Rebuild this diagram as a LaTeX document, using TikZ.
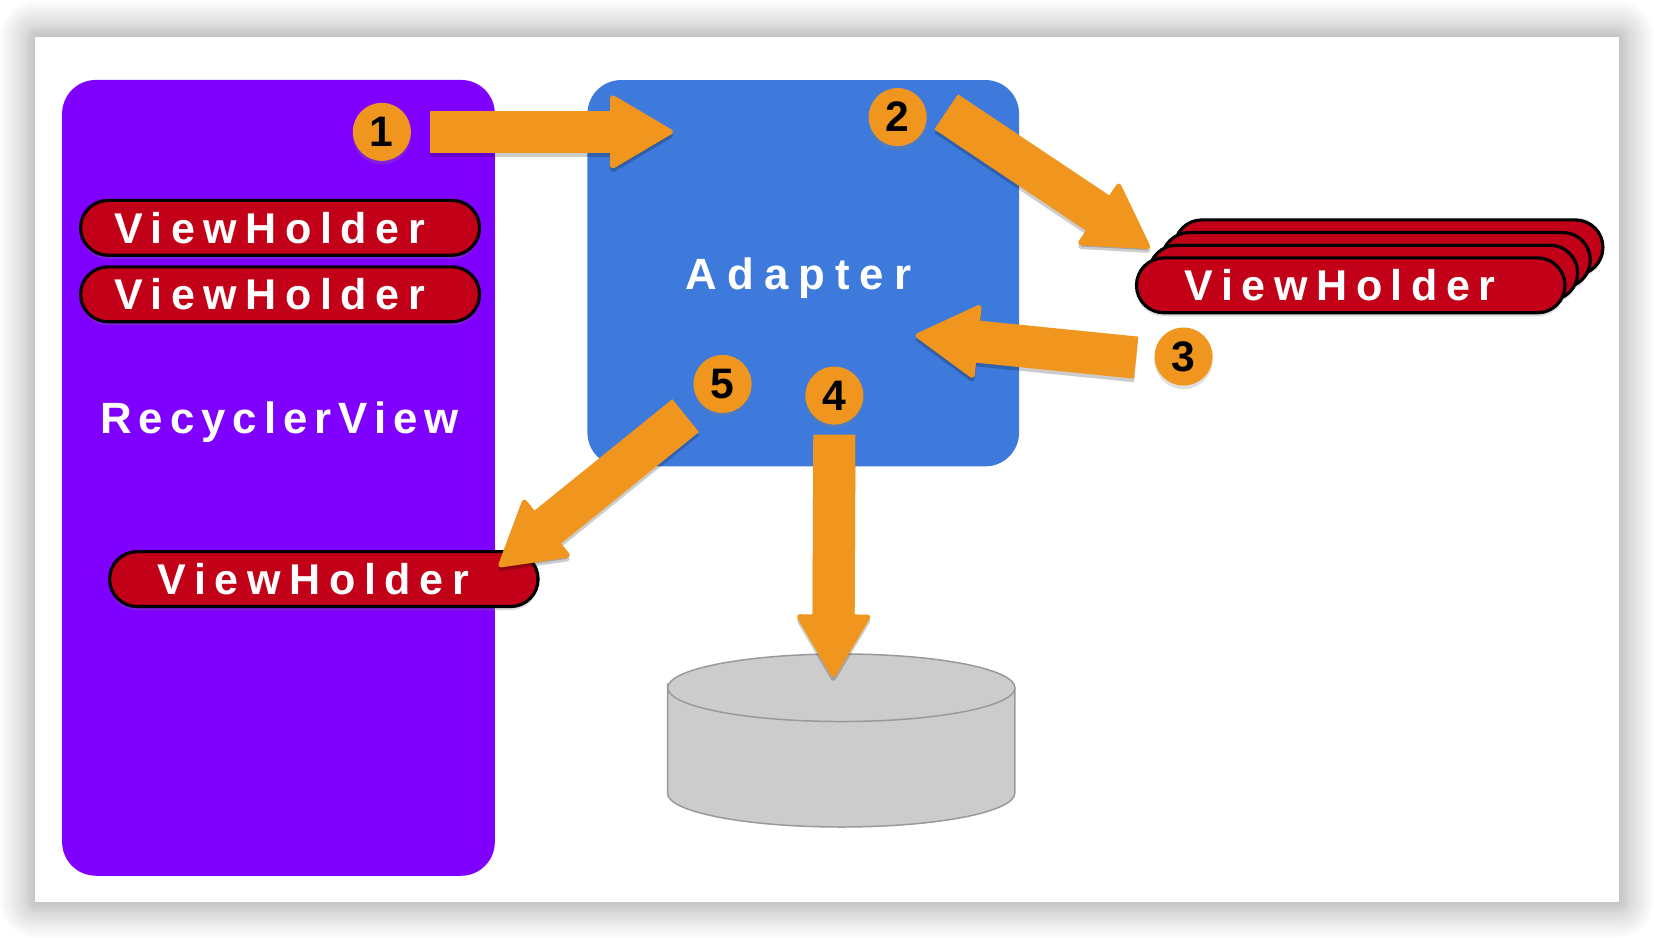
\documentclass[tikz,border=0pt]{standalone}
\usepackage{fontspec}
\usepackage{xcolor}
\usepackage{tikz}
\usetikzlibrary{arrows.meta,positioning,shapes,shapes.misc,shadows}
\setmainfont{Liberation Sans}
\newfontfamily\holderfont[LetterSpace=20]{Liberation Sans}
\newfontfamily\recyclerfont[LetterSpace=16]{Liberation Sans}
\newfontfamily\adapterfont[LetterSpace=23]{Liberation Sans}
\definecolor{recyclerpurple}{HTML}{7F00FF}
\definecolor{adapterblue}{HTML}{3D7ADB}
\definecolor{holderred}{HTML}{C20017}
\definecolor{stepfill}{HTML}{F0961E}
\definecolor{storefill}{HTML}{CCCCCC}
\definecolor{storeline}{HTML}{999999}
\newcommand{\holdertext}{ViewHolder\hspace*{0.2cm}}

\begin{document}
\begin{tikzpicture}[
    x=0.01cm, y=-0.01cm,
    softshadow/.style={drop shadow={shadow xshift=0pt, shadow yshift=-1pt, opacity=.25}},
    bigbox/.style={rectangle, rounded corners=0.32cm, inner sep=0pt},
    holder/.style={rounded rectangle, draw=black, line width=0.03cm, fill=holderred, text=white, minimum height=0.52cm, inner sep=0pt, font=\holderfont\bfseries\fontsize{11.6}{13}\selectfont, softshadow},
    holder short/.style={holder, minimum width=3.78cm},
    holder long/.style={holder, minimum width=4.06cm},
    badge/.style={circle, fill=stepfill, minimum size=0.55cm, inner sep=0pt, font=\bfseries\fontsize{11.5}{14}\selectfont, softshadow},
    arrow/.style={draw=stepfill, line width=0.4cm, -{Triangle[width=0.72cm, length=0.62cm, round, line width=0.05cm]}},
    arrowshade/.style={arrow, draw=black, opacity=.2, transform canvas={yshift=-1pt}}
]
    \useasboundingbox (0,0) rectangle (1568,889.2);

    % Card and its shadow
    \foreach \d in {1,2,...,10,12,14,...,34}
        \fill[black, opacity=.011, rounded corners=\d*0.01cm] ({34-\d},{35-\d}) rectangle ({1534+\d},{855+\d});
    \node[rectangle, fill=white, minimum width=15cm, minimum height=8.2cm, inner sep=0pt] (card) at (784,445) {};

    % Big boxes
    \node[bigbox, fill=recyclerpurple, minimum width=4.1cm, minimum height=7.54cm] (recycler) at (264,453) {};
    \node[bigbox, fill=adapterblue, minimum width=4.09cm, minimum height=3.66cm] (adapter) at (761.5,259) {};
    \node[text=white, font=\recyclerfont\bfseries\fontsize{11.8}{13}\selectfont] (recyclerlabel) at (265,400) {RecyclerView};
    \node[text=white, font=\adapterfont\bfseries\fontsize{11.8}{13}\selectfont] (adapterlabel) at (757,264) {Adapter};

    % Store
    \fill[storefill] (633,652) -- (633,752) arc[start angle=180, end angle=360, x radius=1.645cm, y radius=0.32cm] -- (962,652) arc[start angle=0, end angle=180, x radius=1.645cm, y radius=0.32cm] -- cycle;
    \draw[storeline] (633,752) -- (633,652) arc[start angle=180, end angle=540, x radius=1.645cm, y radius=0.32cm];
    \draw[storeline] (962,652) -- (962,752) arc[start angle=0, end angle=-180, x radius=1.645cm, y radius=0.32cm];

    % Holders
    \node[holder short] (held1) at (265.5,216) {\holdertext};
    \node[holder short] (held2) at (265.5,279) {\holdertext};
    \node[holder long] (held3) at (307,549) {\holdertext};

    % Pool
    \node[holder long] (pool3) at (1316.5,234.5) {};
    \node[holder long] (pool2) at (1304.5,246.5) {};
    \node[holder long] (pool1) at (1292.5,258.5) {};
    \node[holder long] (pool0) at (1280.5,270.5) {\holdertext};

    % Arrow ends
    \coordinate (tail1) at (408,125);
    \coordinate (tip1) at (638,125);
    \coordinate (tail2) at (897,106);
    \coordinate (tip2) at (1090,235);
    \coordinate (tail3) at (1077,339);
    \coordinate (tip3) at (868,318);
    \coordinate (tail4) at (791,412);
    \coordinate (tip4) at (790,642);
    \coordinate (tail5) at (650,394);
    \coordinate (tip5) at (473,537);

    % Arrows
    \foreach \from/\to in {tail1/tip1, tail2/tip2, tail3/tip3, tail4/tip4, tail5/tip5} {
        \draw[arrowshade] (\from) -- (\to);
        \draw[arrow] (\from) -- (\to);
    }

    % Badges
    \node[badge] (step1) at (362,125) {1};
    \node[badge] (step2) at (851,111) {2};
    \node[badge] (step3) at (1122,338) {3};
    \node[badge] (step4) at (791,375) {4};
    \node[badge] (step5) at (685,364) {5};
\end{tikzpicture}
\end{document}
